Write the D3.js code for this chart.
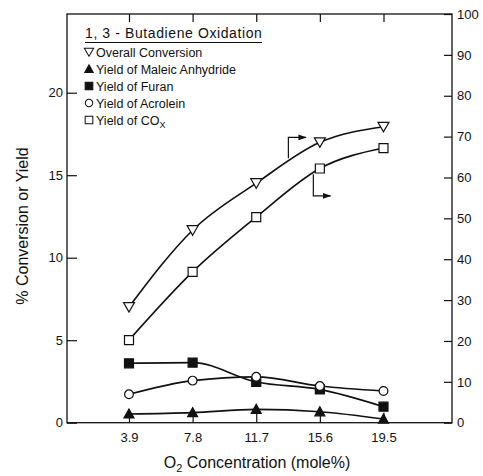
<!DOCTYPE html>
<html><head><meta charset="utf-8">
<script src="https://cdn.jsdelivr.net/npm/d3@7"></script>
<style>
html,body{margin:0;padding:0;background:#fff;}
text{font-family:"Liberation Sans",Arial,sans-serif;fill:#111;}
</style></head>
<body><svg id="c" width="483" height="476"></svg>
<script>
// ---- data ----
const o2Conc = [3.9, 7.8, 11.7, 15.6, 19.5];
const xTickLabels = ["3.9", "7.8", "11.7", "15.6", "19.5"];
// right axis (%)
const overallConversion = [28.3, 47.1, 58.6, 68.6, 72.4];
const yieldCOx = [20.2, 36.9, 50.3, 62.2, 67.2];
// left axis (%)
const yieldMaleic = [0.53, 0.61, 0.81, 0.66, 0.22];
const yieldFuran = [3.60, 3.64, 2.47, 2.02, 0.97];
const yieldAcrolein = [1.72, 2.55, 2.78, 2.22, 1.92];
const leftTicks = [0, 5, 10, 15, 20];
const rightTicks = [0, 10, 20, 30, 40, 50, 60, 70, 80, 90, 100];
const legendTitle = "1, 3 - Butadiene Oxidation";
const legendLabels = ["Overall Conversion", "Yield of Maleic Anhydride", "Yield of Furan", "Yield of Acrolein", "Yield of CO"];
// axis-pointing arrows (data units: x, right-axis %)
const arrowLeftToRight1 = [[13.67, 64.7], [13.67, 69.8], [14.75, 69.8]];
const arrowLeftToRight2 = [[15.2, 60.8], [15.2, 55.5], [16.25, 55.5]];

// ---- layout ----
const svg = d3.select("#c");
const L = 67, R = 452, T = 14, B = 422.7;
const x = d3.scaleLinear().domain([0.1, 23.7]).range([L, R]);
const yL = d3.scaleLinear().domain([0, (B - T) / 16.5]).range([B, T]);
const yR = d3.scaleLinear().domain([0, 100]).range([B, T]);

svg.append("defs").append("marker").attr("id", "ah").attr("viewBox", "0 0 10 10")
  .attr("refX", 9).attr("refY", 5).attr("markerWidth", 7).attr("markerHeight", 7).attr("orient", "auto")
  .append("path").attr("d", "M0,1.5 L10,5 L0,8.5 Z").attr("fill", "#111");

// frame
svg.append("rect").attr("x", L).attr("y", T).attr("width", R - L).attr("height", B - T)
  .attr("fill", "none").attr("stroke", "#111").attr("stroke-width", 1.3);

// axes (inward ticks)
const ax = (g, a) => { g.call(a); g.select(".domain").remove(); g.selectAll("line").attr("stroke", "#111").attr("stroke-width", 1.2); g.selectAll("text").attr("font-size", 13).attr("fill", "#111").attr("font-family", "Liberation Sans, Arial, sans-serif"); };
svg.append("g").attr("transform", `translate(0,${B})`)
  .call(g => ax(g, d3.axisBottom(x).tickValues(o2Conc).tickFormat((d, i) => xTickLabels[i]).tickSizeInner(-10).tickSizeOuter(0).tickPadding(10)));
svg.append("g").attr("transform", `translate(0,${T})`)
  .call(g => ax(g, d3.axisTop(x).tickValues(o2Conc).tickFormat("").tickSizeInner(-8).tickSizeOuter(0)));
svg.append("g").attr("transform", `translate(${L},0)`)
  .call(g => ax(g, d3.axisLeft(yL).tickValues(leftTicks).tickFormat(d3.format("d")).tickSizeInner(-10).tickSizeOuter(0).tickPadding(4)));
svg.append("g").attr("transform", `translate(${R},0)`)
  .call(g => ax(g, d3.axisRight(yR).tickValues(rightTicks).tickFormat(d3.format("d")).tickSizeInner(-8).tickSizeOuter(0).tickPadding(5)));

// axis titles
svg.append("text").attr("transform", "translate(28,226) rotate(-90)").attr("text-anchor", "middle")
  .attr("font-size", 16).text("% Conversion or Yield");
const xt = svg.append("text").attr("x", 257).attr("y", 468).attr("text-anchor", "middle").attr("font-size", 16);
xt.append("tspan").text("O");
xt.append("tspan").attr("font-size", 11).attr("dy", 4).text("2");
xt.append("tspan").attr("dy", -4).text(" Concentration (mole%)");

// series
const line = (ys) => d3.line().x(d => x(d[0])).y(d => ys(d[1])).curve(d3.curveMonotoneX);
const series = [
  { vals: overallConversion, y: yR, sym: "tridown", fill: "#fff" },
  { vals: yieldCOx, y: yR, sym: "square", fill: "#fff" },
  { vals: yieldFuran, y: yL, sym: "square", fill: "#111" },
  { vals: yieldAcrolein, y: yL, sym: "circle", fill: "#fff" },
  { vals: yieldMaleic, y: yL, sym: "triup", fill: "#111" },
];
const symPath = (s) => {
  if (s === "square") return "M-4.5,-4.5H4.5V4.5H-4.5Z";
  if (s === "circle") return d3.symbol(d3.symbolCircle, 60)();
  if (s === "triup") return "M0,-5L5,4L-5,4Z";
  if (s === "tridown") return "M-5.5,-4.5L5.5,-4.5L0,5Z";
};
series.forEach(s => {
  const pts = o2Conc.map((c, i) => [c, s.vals[i]]);
  svg.append("path").attr("d", line(s.y)(pts)).attr("fill", "none").attr("stroke", "#111").attr("stroke-width", 1.6);
});
series.forEach(s => {
  const pts = o2Conc.map((c, i) => [c, s.vals[i]]);
  svg.append("g").selectAll("path").data(pts).join("path")
    .attr("transform", d => `translate(${x(d[0])},${s.y(d[1])})`)
    .attr("d", symPath(s.sym)).attr("fill", s.fill).attr("stroke", "#111").attr("stroke-width", 1.2);
});

// arrows pointing to right axis
[arrowLeftToRight1, arrowLeftToRight2].forEach(a => {
  svg.append("path").attr("d", d3.line().x(d => x(d[0])).y(d => yR(d[1]))(a))
    .attr("fill", "none").attr("stroke", "#111").attr("stroke-width", 1.2).attr("marker-end", "url(#ah)");
});

// legend
const lg = svg.append("g");
lg.append("text").attr("x", 85).attr("y", 38).attr("font-size", 14).attr("letter-spacing", 0.6).text(legendTitle);
lg.append("line").attr("x1", 85).attr("x2", 262).attr("y1", 42.5).attr("y2", 42.5).attr("stroke", "#111").attr("stroke-width", 1.1);
const legSyms = [["tridown", "#fff"], ["triup", "#111"], ["square", "#111"], ["circle", "#fff"], ["square", "#fff"]];
legendLabels.forEach((t, i) => {
  const cy = 52 + i * 17;
  lg.append("path").attr("transform", `translate(89,${cy}) scale(0.85)`).attr("d", symPath(legSyms[i][0]))
    .attr("fill", legSyms[i][1]).attr("stroke", "#111").attr("stroke-width", 1.2);
  const tx = lg.append("text").attr("x", 96).attr("y", cy + 4.5).attr("font-size", 12.5);
  tx.append("tspan").text(t);
  if (i === 4) tx.append("tspan").attr("font-size", 9).attr("dy", 3).text("X");
});
</script></body></html>
